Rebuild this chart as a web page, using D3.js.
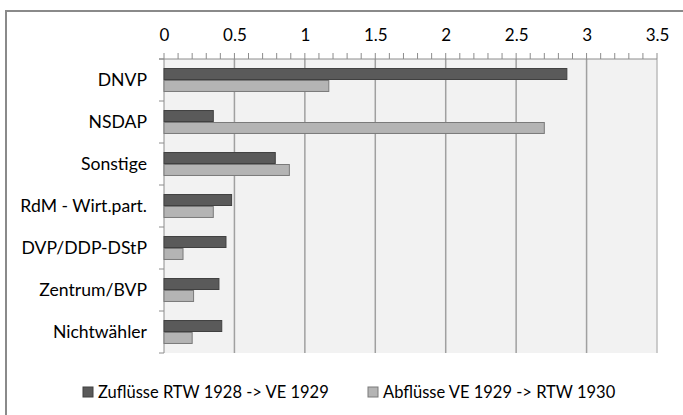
<!DOCTYPE html>
<html><head><meta charset="utf-8">
<script src="https://cdn.jsdelivr.net/npm/d3@7"></script>
<style>body{margin:0;background:#fff}svg{display:block}text{font-family:Lato,"Open Sans",sans-serif;fill:#000}</style>
</head><body><svg id="c" width="683" height="415"></svg>
<script>
const categories = ["DNVP","NSDAP","Sonstige","RdM - Wirt.part.","DVP/DDP-DStP","Zentrum/BVP","Nichtwähler"];
const seriesNames = ["Zuflüsse RTW 1928 -> VE 1929","Abflüsse VE 1929 -> RTW 1930"];
const zufluesse = [2.86,0.35,0.79,0.48,0.44,0.39,0.41];
const abfluesse = [1.17,2.70,0.89,0.35,0.135,0.21,0.20];
const xTicks = [0,0.5,1,1.5,2,2.5,3,3.5];
const colors = ["#5a5a5a","#b4b4b4"];
const strokes = ["#404040","#7a7a7a"];

const svg = d3.select("#c");
// outer frame
svg.append("rect").attr("x",6).attr("y",11).attr("width",690).attr("height",420)
  .attr("fill","none").attr("stroke","#8a8a8a").attr("stroke-width",2);

const m = {l:164,r:657,t:59,b:353};
const x = d3.scaleLinear().domain([0,3.5]).range([m.l,m.r]);
const y = d3.scaleBand().domain(categories).range([m.t,m.b]).paddingInner(0.43).paddingOuter(0.215);
const ys = d3.scaleBand().domain([0,1]).range([0,y.bandwidth()]);
const yOuter = d3.scaleBand().domain(categories).range([m.t,m.b]);

svg.append("rect").attr("x",m.l).attr("y",m.t).attr("width",m.r-m.l).attr("height",m.b-m.t).attr("fill","#f2f2f2");

// gridlines
svg.append("g").selectAll("line").data(xTicks.slice(1)).join("line")
  .attr("x1",d=>x(d)).attr("x2",d=>x(d)).attr("y1",m.t).attr("y2",m.b)
  .attr("stroke",(d,i)=>i===xTicks.length-2?"#bdbdbd":"#a0a0a0").attr("stroke-width",1.5);

// top axis with minor ticks
const minor = d3.range(0,36).map(i=>i/10);
svg.append("g").selectAll("line").data(minor).join("line")
  .attr("x1",d=>x(d)).attr("x2",d=>x(d)).attr("y1",m.t-6).attr("y2",m.t)
  .attr("stroke","#8c8c8c").attr("stroke-width",1);
svg.append("line").attr("x1",m.l-5).attr("x2",m.r).attr("y1",m.t).attr("y2",m.t).attr("stroke","#8c8c8c");

const xAxis = d3.axisTop(x).tickValues(xTicks).tickFormat(d3.format("")).tickSize(0).tickPadding(0);
const gx = svg.append("g").attr("transform",`translate(0,${m.t-18})`).call(xAxis);
gx.select(".domain").remove();
gx.selectAll("text").attr("font-size",17).attr("font-family","Lato,'Open Sans',sans-serif").attr("fill","#000");

// left axis
svg.append("line").attr("x1",m.l).attr("x2",m.l).attr("y1",m.t).attr("y2",m.b).attr("stroke","#8c8c8c");
const bounds = categories.map(c=>yOuter(c)+yOuter.step()).concat([m.t]);
svg.append("g").selectAll("line").data(bounds).join("line")
  .attr("x1",m.l-5).attr("x2",m.l).attr("y1",d=>d).attr("y2",d=>d).attr("stroke","#8c8c8c");
svg.append("g").selectAll("text").data(categories).join("text")
  .attr("x",147).attr("y",d=>y(d)+y.bandwidth()/2).attr("dy","0.35em")
  .attr("text-anchor","end").attr("font-size",17.6).text(d=>d);

// bars
const data = [zufluesse, abfluesse];
data.forEach((vals,si)=>{
  svg.append("g").selectAll("rect").data(vals).join("rect")
    .attr("x",x(0)).attr("y",(d,i)=>y(categories[i])+ys(si)+0.5)
    .attr("width",d=>x(d)-x(0)).attr("height",ys.bandwidth()-1)
    .attr("fill",colors[si]).attr("stroke",strokes[si]).attr("stroke-width",1);
});

// legend
const lx = [83,368];
seriesNames.forEach((n,i)=>{
  svg.append("rect").attr("x",lx[i]).attr("y",387).attr("width",10).attr("height",10)
    .attr("fill",colors[i]).attr("stroke",strokes[i]);
  svg.append("text").attr("x",lx[i]+15).attr("y",398).attr("font-size",16.5).text(n);
});
</script></body></html>
